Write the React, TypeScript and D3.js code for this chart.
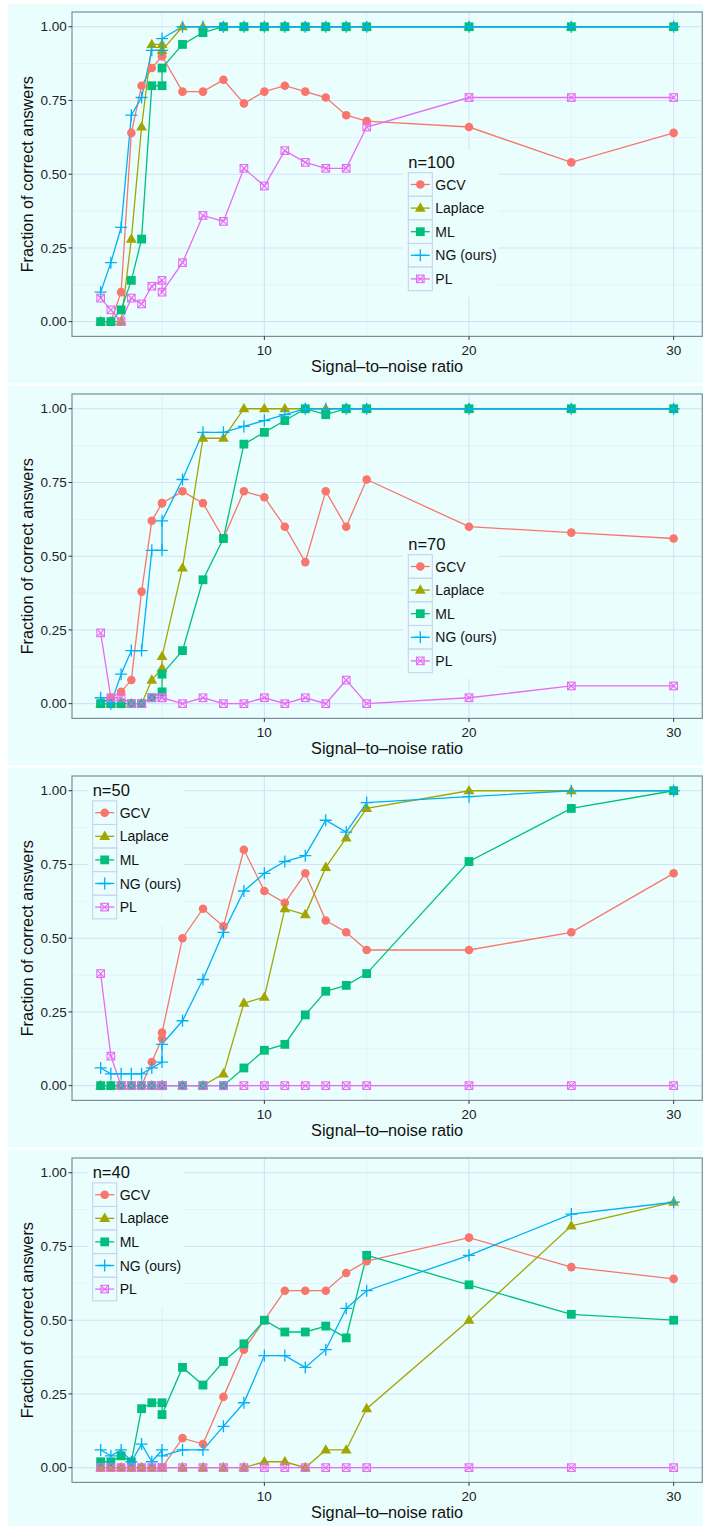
import React from "react";
import * as d3 from "d3";

// ---------- data ----------
const snr = [2, 2.5, 3, 3.5, 4, 4.5, 5, 5, 6, 7, 8, 9, 10, 11, 12, 13, 14, 15, 20, 25, 30];
const methods = ["GCV", "Laplace", "ML", "NG (ours)", "PL"];
const methodColors = ["#F8766D", "#A3A500", "#00BF7D", "#00B0F6", "#E76BF3"];
const xTicks = [10, 20, 30];
const yTicks = [0, 0.25, 0.5, 0.75, 1];
const yTickLabels = ["0.00", "0.25", "0.50", "0.75", "1.00"];
const panelLabels = ["n=100", "n=70", "n=50", "n=40"];

// n = 100
const gcv100 = [0, 0, 0.10, 0.64, 0.80, 0.86, 0.90, 0.90, 0.78, 0.78, 0.82, 0.74, 0.78, 0.80, 0.78, 0.76, 0.70, 0.68, 0.66, 0.54, 0.64];
const lap100 = [0, 0, 0, 0.28, 0.66, 0.94, 0.94, 0.92, 1, 1, 1, 1, 1, 1, 1, 1, 1, 1, 1, 1, 1];
const ml100 = [0, 0, 0.04, 0.14, 0.28, 0.80, 0.80, 0.86, 0.94, 0.98, 1, 1, 1, 1, 1, 1, 1, 1, 1, 1, 1];
const ng100 = [0.10, 0.20, 0.32, 0.70, 0.76, 0.92, 0.92, 0.96, 1, 1, 1, 1, 1, 1, 1, 1, 1, 1, 1, 1, 1];
const pl100 = [0.08, 0.04, 0, 0.08, 0.06, 0.12, 0.14, 0.10, 0.20, 0.36, 0.34, 0.52, 0.46, 0.58, 0.54, 0.52, 0.52, 0.66, 0.76, 0.76, 0.76];

// n = 70
const gcv70 = [0, 0.02, 0.04, 0.08, 0.38, 0.62, 0.68, 0.68, 0.72, 0.68, 0.56, 0.72, 0.70, 0.60, 0.48, 0.72, 0.60, 0.76, 0.60, 0.58, 0.56];
const lap70 = [0, 0, 0, 0, 0, 0.08, 0.12, 0.16, 0.46, 0.90, 0.90, 1, 1, 1, 1, 1, 1, 1, 1, 1, 1];
const ml70 = [0, 0, 0, 0, 0, 0.02, 0.04, 0.10, 0.18, 0.42, 0.56, 0.88, 0.92, 0.96, 1, 0.98, 1, 1, 1, 1, 1];
const ng70 = [0.02, 0, 0.10, 0.18, 0.18, 0.52, 0.52, 0.62, 0.76, 0.92, 0.92, 0.94, 0.96, 0.98, 1, 1, 1, 1, 1, 1, 1];
const pl70 = [0.24, 0.02, 0.02, 0, 0, 0.02, 0.02, 0.02, 0, 0.02, 0, 0, 0.02, 0, 0.02, 0, 0.08, 0, 0.02, 0.06, 0.06];

// n = 50
const gcv50 = [0, 0, 0, 0, 0, 0.08, 0.16, 0.18, 0.50, 0.60, 0.54, 0.80, 0.66, 0.62, 0.72, 0.56, 0.52, 0.46, 0.46, 0.52, 0.72];
const lap50 = [0, 0, 0, 0, 0, 0, 0, 0, 0, 0, 0.04, 0.28, 0.30, 0.60, 0.58, 0.74, 0.84, 0.94, 1, 1, 1];
const ml50 = [0, 0, 0, 0, 0, 0, 0, 0, 0, 0, 0, 0.06, 0.12, 0.14, 0.24, 0.32, 0.34, 0.38, 0.76, 0.94, 1];
const ng50 = [0.06, 0.04, 0.04, 0.04, 0.04, 0.06, 0.08, 0.14, 0.22, 0.36, 0.52, 0.66, 0.72, 0.76, 0.78, 0.90, 0.86, 0.96, 0.98, 1, 1];
const pl50 = [0.38, 0.10, 0, 0, 0, 0, 0, 0, 0, 0, 0, 0, 0, 0, 0, 0, 0, 0, 0, 0, 0];

// n = 40
const gcv40 = [0, 0, 0, 0, 0, 0, 0, 0, 0.10, 0.08, 0.24, 0.40, 0.50, 0.60, 0.60, 0.60, 0.66, 0.70, 0.78, 0.68, 0.64];
const lap40 = [0, 0, 0, 0, 0, 0, 0, 0, 0, 0, 0, 0, 0.02, 0.02, 0, 0.06, 0.06, 0.20, 0.50, 0.82, 0.90];
const ml40 = [0.02, 0.02, 0.04, 0.02, 0.20, 0.22, 0.22, 0.18, 0.34, 0.28, 0.36, 0.42, 0.50, 0.46, 0.46, 0.48, 0.44, 0.72, 0.62, 0.52, 0.50];
const ng40 = [0.06, 0.04, 0.06, 0.02, 0.08, 0.02, 0.06, 0.04, 0.06, 0.06, 0.14, 0.22, 0.38, 0.38, 0.34, 0.40, 0.54, 0.60, 0.72, 0.86, 0.90];
const pl40 = [0, 0, 0, 0, 0, 0, 0, 0, 0, 0, 0, 0, 0, 0, 0, 0, 0, 0, 0, 0, 0];

const panelSeries = [
  [gcv100, lap100, ml100, ng100, pl100],
  [gcv70, lap70, ml70, ng70, pl70],
  [gcv50, lap50, ml50, ng50, pl50],
  [gcv40, lap40, ml40, ng40, pl40],
];

// ---------- style / layout ----------
const W = 703;
const H = 1526;
const PITCH = 382;
const BG = "#ebfefe";
const GRID_MAJOR = "#d3e1f6";
const GRID_MINOR = "#e0ecfa";
const BORDER = "#7e8b9a";
const KEY_BORDER = "#c6d2ee";
const FONT = "'Liberation Sans', Arial, Helvetica, sans-serif";
const PLOT_L = 72;
const PLOT_R = 702.3;
const PLOT_T = 12.0;
const PLOT_B = 336.4;
const legendPos = [
  { x: 408.3, titleY: 161.7 },
  { x: 408.3, titleY: 161.7 },
  { x: 92.7, titleY: 25.9 },
  { x: 92.7, titleY: 25.9 },
];

const xScale = d3.scaleLinear().domain([0.6, 31.4]).range([PLOT_L, PLOT_R]);
const yScale = d3.scaleLinear().domain([-0.05, 1.05]).range([PLOT_B, PLOT_T]);
const xMinor = [5, 15, 25];
const yMinor = [0.125, 0.375, 0.625, 0.875];

function Marker({ shape, x, y, color }: { shape: number; x: number; y: number; color: string }) {
  if (shape === 0) return <circle cx={x} cy={y} r={4.3} fill={color} />;
  if (shape === 1) {
    const hw = 5.4;
    return <path d={`M${x},${y - 5.8}L${x + hw},${y + 3.6}L${x - hw},${y + 3.6}Z`} fill={color} />;
  }
  if (shape === 2) {
    const s = 4.4;
    return <rect x={x - s} y={y - s} width={2 * s} height={2 * s} fill={color} />;
  }
  if (shape === 3) {
    const a = 6;
    return (
      <path d={`M${x - a},${y}H${x + a}M${x},${y - a}V${y + a}`} stroke={color} strokeWidth={1.3} fill="none" />
    );
  }
  const s = 3.8;
  return (
    <g stroke={color} strokeWidth={1.1} fill="none">
      <rect x={x - s} y={y - s} width={2 * s} height={2 * s} />
      <path d={`M${x - s},${y - s}L${x + s},${y + s}M${x - s},${y + s}L${x + s},${y - s}`} />
    </g>
  );
}

function Panel({ idx }: { idx: number }) {
  const series = panelSeries[idx];
  const lp = legendPos[idx];
  const line = d3
    .line<number>()
    .x((_, i) => xScale(snr[i]))
    .y((d) => yScale(d));
  const keyH = 23.6;
  const keyW = 24;
  const keyTop = lp.titleY + 11.0;
  return (
    <g transform={`translate(0,${idx * PITCH})`}>
      {/* grid */}
      {yMinor.map((v) => (
        <line key={"ym" + v} x1={PLOT_L} x2={PLOT_R} y1={yScale(v)} y2={yScale(v)} stroke={GRID_MINOR} strokeWidth={0.8} />
      ))}
      {xMinor.map((v) => (
        <line key={"xm" + v} x1={xScale(v)} x2={xScale(v)} y1={PLOT_T} y2={PLOT_B} stroke={GRID_MINOR} strokeWidth={0.8} />
      ))}
      {yTicks.map((v) => (
        <line key={"yM" + v} x1={PLOT_L} x2={PLOT_R} y1={yScale(v)} y2={yScale(v)} stroke={GRID_MAJOR} strokeWidth={1.1} />
      ))}
      {xTicks.map((v) => (
        <line key={"xM" + v} x1={xScale(v)} x2={xScale(v)} y1={PLOT_T} y2={PLOT_B} stroke={GRID_MAJOR} strokeWidth={1.1} />
      ))}

      {/* legend background (covers grid) */}
      <rect x={lp.x - 5.3} y={lp.titleY - 11.7} width={96} height={147} fill={BG} />

      {/* lines */}
      {series.map((s, si) => (
        <path key={"l" + si} d={line(s) || ""} fill="none" stroke={methodColors[si]} strokeWidth={1.3} />
      ))}
      {/* points */}
      {series.map((s, si) => (
        <g key={"p" + si}>
          {s.map((v, i) => (
            <Marker key={i} shape={si} x={xScale(snr[i])} y={yScale(v)} color={methodColors[si]} />
          ))}
        </g>
      ))}

      {/* border */}
      <rect x={PLOT_L} y={PLOT_T} width={PLOT_R - PLOT_L} height={PLOT_B - PLOT_T} fill="none" stroke={BORDER} strokeWidth={1.2} />

      {/* y axis */}
      {yTicks.map((v, i) => (
        <g key={"yt" + v}>
          <line x1={PLOT_L - 3.5} x2={PLOT_L} y1={yScale(v)} y2={yScale(v)} stroke="#333" strokeWidth={1} />
          <text x={66.7} y={yScale(v) + 4.7} textAnchor="end" fontSize={13.5} fill="#222" fontFamily={FONT}>
            {yTickLabels[i]}
          </text>
        </g>
      ))}
      {/* x axis */}
      {xTicks.map((v) => (
        <g key={"xt" + v}>
          <line x1={xScale(v)} x2={xScale(v)} y1={PLOT_B} y2={PLOT_B + 3.5} stroke="#333" strokeWidth={1} />
          <text x={xScale(v)} y={354.6} textAnchor="middle" fontSize={13.5} fill="#222" fontFamily={FONT}>
            {v}
          </text>
        </g>
      ))}
      <text x={(PLOT_L + PLOT_R) / 2} y={371.6} textAnchor="middle" fontSize={16.3} fill="#111" fontFamily={FONT}>
        Signal–to–noise ratio
      </text>
      <text
        transform={`translate(33.2,${(PLOT_T + PLOT_B) / 2}) rotate(-90)`}
        textAnchor="middle"
        fontSize={16.3}
        fill="#111"
        fontFamily={FONT}
      >
        Fraction of correct answers
      </text>

      {/* legend */}
      <text x={lp.x} y={lp.titleY + 5.8} fontSize={16.5} fill="#111" fontFamily={FONT}>
        {panelLabels[idx]}
      </text>
      {methods.map((m, mi) => {
        const top = keyTop + mi * keyH;
        const cy = top + keyH / 2;
        const cx = lp.x + keyW / 2;
        return (
          <g key={"lg" + mi}>
            <rect x={lp.x} y={top} width={keyW} height={keyH} fill={BG} stroke={KEY_BORDER} strokeWidth={1.1} />
            <line x1={lp.x + 2.5} x2={lp.x + keyW - 2.5} y1={cy} y2={cy} stroke={methodColors[mi]} strokeWidth={1.3} />
            <Marker shape={mi} x={cx} y={cy} color={methodColors[mi]} />
            <text x={lp.x + keyW + 3} y={cy + 5} fontSize={14} fill="#111" fontFamily={FONT}>
              {m}
            </text>
          </g>
        );
      })}
    </g>
  );
}

export default function App() {
  return (
    <svg
      width={W}
      height={H}
      viewBox={`0 0 ${W} ${H}`}
      style={{ position: "absolute", left: 0, top: 0, display: "block" }}
    >
      <rect x={0} y={0} width={W} height={H} fill="#ffffff" />
      <rect x={8} y={4} width={W - 8} height={H - 4} fill={BG} />
      {[0, 1, 2].map((i) => (
        <rect key={"sep" + i} x={8} y={383.2 + i * PITCH} width={W - 8} height={2.6} fill="#ffffff" />
      ))}
      {[0, 1, 2, 3].map((i) => (
        <Panel key={i} idx={i} />
      ))}
    </svg>
  );
}
